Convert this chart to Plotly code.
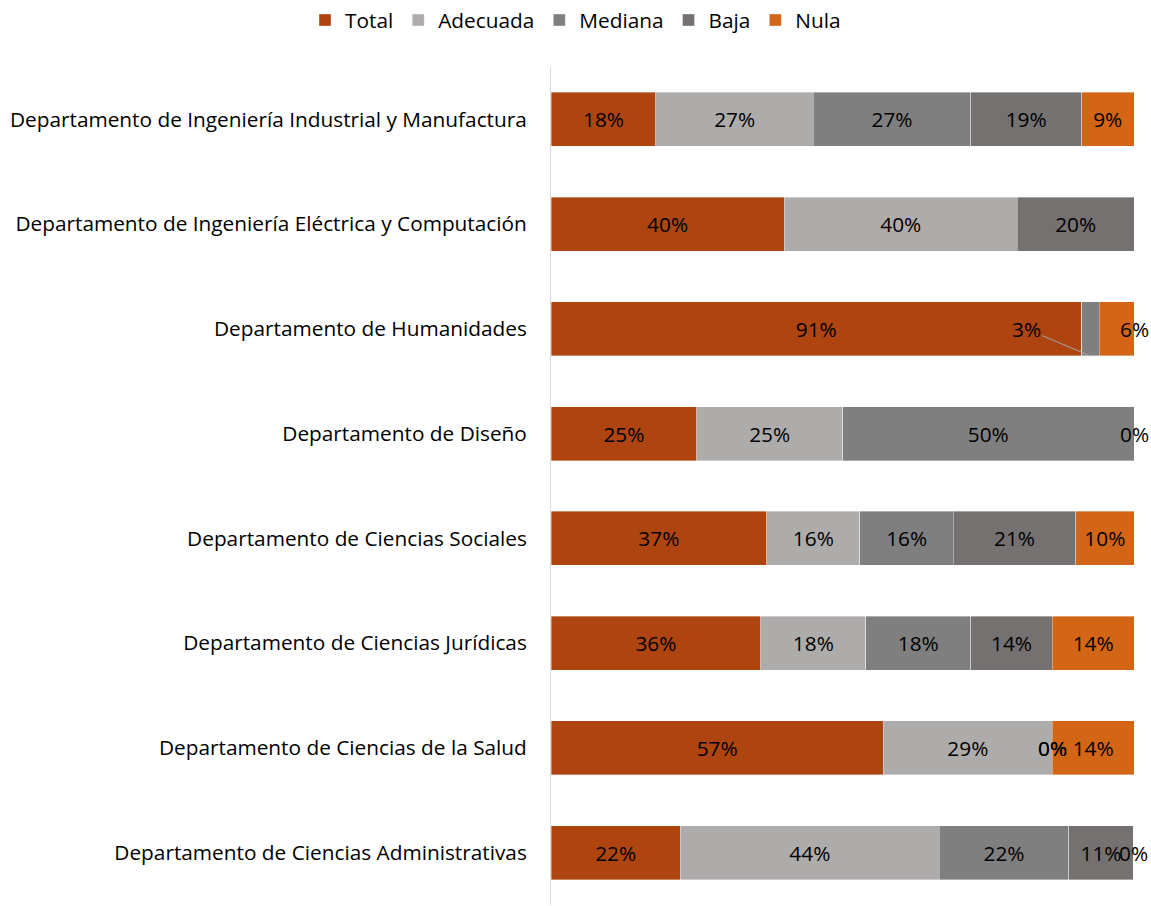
import plotly.graph_objects as go

categories = [
    "Departamento de Ingeniería Industrial y Manufactura",
    "Departamento de Ingeniería Eléctrica y Computación",
    "Departamento de Humanidades",
    "Departamento de Diseño",
    "Departamento de Ciencias Sociales",
    "Departamento de Ciencias Jurídicas",
    "Departamento de Ciencias de la Salud",
    "Departamento de Ciencias Administrativas",
]
series_names = ["Total", "Adecuada", "Mediana", "Baja", "Nula"]
total = [18, 40, 91, 25, 37, 36, 57, 22.2]
adecuada = [27, 40, None, 25, 16, 18, 29, 44.4]
mediana = [27, None, 3, 50, 16, 18, 0, 22.2]
baja = [19, 20, None, 0, 21, 14, 0, 11.1]
nula = [9, None, 6, None, 10, 14, 14, 0]
colors = ["#AE4510", "#AEABAB", "#7F7F7F", "#767171", "#D26516"]

series = [total, adecuada, mediana, baja, nula]
FONT = "Open Sans"
FS = 20.8
HUM = "Departamento de Humanidades"

fig = go.Figure()
for name, vals, col in zip(series_names, series, colors):
    texts = []
    for i, v in enumerate(vals):
        if v is None or v == 0:
            texts.append("")
        elif categories[i] == HUM and name in ("Mediana", "Nula"):
            texts.append("")
        else:
            texts.append(f"{v:.0f}%")
    fig.add_trace(go.Bar(
        name=name, y=categories, x=[0 if v is None else v for v in vals],
        orientation="h", marker=dict(color=col, line=dict(color="rgba(255,255,255,0.45)", width=0.8)),
        text=texts, textposition="inside", insidetextanchor="middle", textangle=0,
        textfont=dict(family=FONT, size=FS, color="#000000"),
        constraintext="none", cliponaxis=False,
    ))

annotations = []
# zero-value labels placed at cumulative positions
for i, cat in enumerate(categories):
    cum = 0
    for name, vals in zip(series_names, series):
        v = vals[i]
        if v is None:
            continue
        if v == 0:
            annotations.append(dict(x=cum, y=cat, text="0%", showarrow=False,
                                    font=dict(family=FONT, size=FS, color="#000000")))
        cum += v

# Humanidades small labels
hi = categories.index(HUM)
tip_x = total[hi] + mediana[hi] / 2
annotations.append(dict(x=tip_x, y=categories[hi], yshift=-27, text=f"{mediana[hi]:.0f}%",
                        showarrow=True, arrowhead=0, arrowwidth=1, arrowcolor="#A6A6A6",
                        ax=-64, ay=-27, standoff=0,
                        font=dict(family=FONT, size=FS, color="#000000")))
nula_x = total[hi] + mediana[hi] + nula[hi] / 2
annotations.append(dict(x=nula_x, y=categories[hi], xshift=18, text=f"{nula[hi]:.0f}%",
                        showarrow=False, font=dict(family=FONT, size=FS, color="#000000")))

fig.update_layout(
    barmode="stack",
    width=1151, height=906,
    margin=dict(l=551, r=17, t=67, b=1),
    paper_bgcolor="white", plot_bgcolor="white",
    bargap=0.485,
    font=dict(family=FONT, size=FS, color="#000000"),
    legend=dict(orientation="h", x=0.5, xanchor="center", xref="container",
                y=1.0, yanchor="top", yref="container",
                font=dict(family=FONT, size=FS, color="#000000"),
                traceorder="normal"),
    showlegend=True,
    annotations=annotations,
)
fig.update_xaxes(range=[0, 100], visible=False, showgrid=False)
fig.update_yaxes(autorange="reversed", showline=True, linecolor="#D9D9D9", linewidth=1,
                 ticks="", ticklabelstandoff=19, tickfont=dict(family=FONT, size=FS, color="#000000"),
                 showgrid=False)
fig.write_html("out.html", config={"displayModeBar": False},
               post_script="document.body.style.margin='0';document.body.style.overflow='hidden';")
